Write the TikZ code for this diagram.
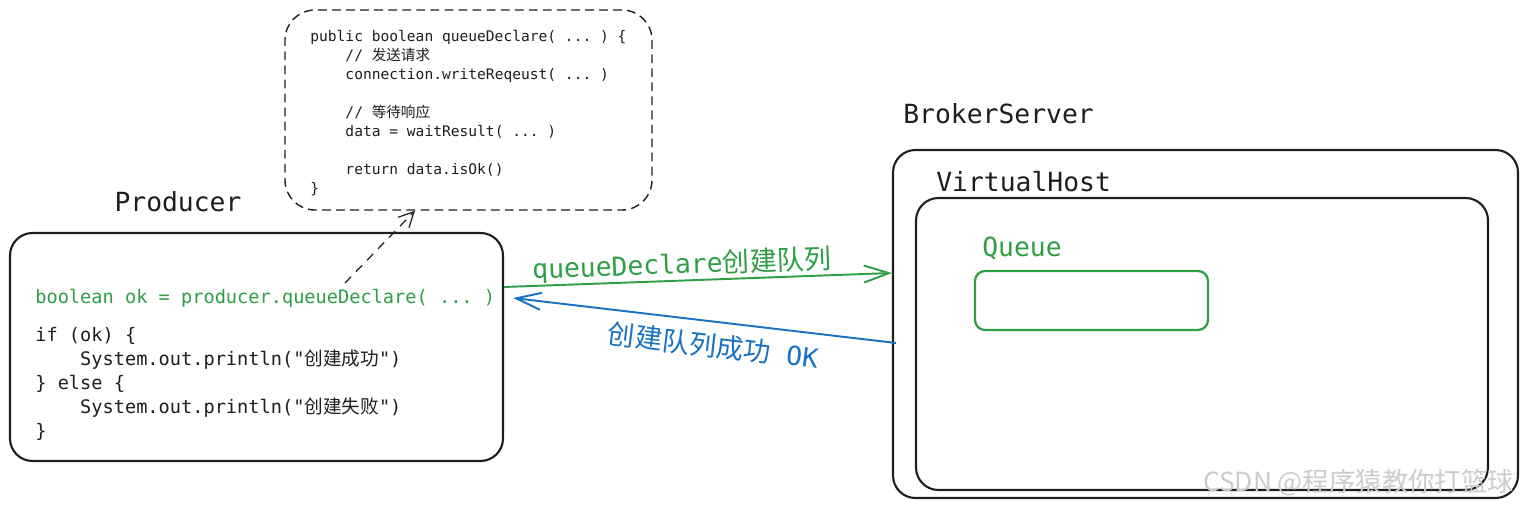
\documentclass[tikz,border=0pt]{standalone}
\usepackage{fontspec}
\setmonofont{DejaVu Sans Mono}
\newfontfamily\cjk{Noto Sans CJK SC}
\usepackage{xcolor}
\usepackage{tikz}
\usetikzlibrary{arrows.meta}
\usetikzlibrary{calc}
\definecolor{exgreen}{HTML}{2F9E44}
\definecolor{exblue}{HTML}{1971C2}
\definecolor{exblack}{HTML}{1E1E1E}
\newcommand{\ind}{\phantom{xxxx}}
\tikzstyle{box}=[rectangle, draw=exblack, line width=1.2pt, rounded corners=0.45cm]
\tikzstyle{dbox}=[rectangle, draw=exblack, dashed, dash pattern=on 5pt off 3pt, line width=0.8pt, rounded corners=0.6cm]
\tikzstyle{qbox}=[rectangle, draw=exgreen, line width=1.3pt, rounded corners=0.2cm]
\tikzstyle{title}=[inner sep=0pt, text=exblack, font=\ttfamily\fontsize{15}{18}\selectfont]
\tikzstyle{code}=[inner sep=0pt, align=left, text=exblack, font=\ttfamily\fontsize{10.6}{13.6}\selectfont]
\tikzstyle{smallcode}=[inner sep=0pt, align=left, text=exblack, font=\ttfamily\fontsize{8.3}{10.8}\selectfont]
\tikzstyle{gline}=[exgreen, line width=1.1pt, -{Straight Barb[length=5mm,width=3.4mm]}]
\tikzstyle{bline}=[exblue, line width=1.1pt, {Straight Barb[length=5mm,width=3.4mm]}-]
\tikzstyle{dline}=[exblack, dashed, dash pattern=on 5pt off 4pt, line width=0.7pt, -{Straight Barb[length=3mm,width=3mm]}]

\begin{document}
\begin{tikzpicture}
\useasboundingbox (0,0) rectangle (30.52,10.18);
% producer
\node[box, minimum width=9.86cm, minimum height=4.56cm] (prod) at (5.13,3.24) {};
\node[title] (prodname) at (3.56,6.14) {Producer};
\node[code, anchor=west, text=exgreen] (okline) at (0.7,4.22) {boolean ok = producer.queueDeclare( ... )};
\node[code, anchor=north west] (ifelse) at (0.7,3.64) {if (ok) \{\\
\ind System.out.println("{\cjk 创建成功}")\\
\} else \{\\
\ind System.out.println("{\cjk 创建失败}")\\
\}};
% method body
\node[dbox, minimum width=7.34cm, minimum height=4cm] (popup) at (9.37,7.98) {};
\node[smallcode, anchor=north west] (method) at (6.2,9.58) {public boolean queueDeclare( ... ) \{\\
\ind // {\cjk 发送请求}\\
\ind connection.writeReqeust( ... )\\[10.8pt]
\ind // {\cjk 等待响应}\\
\ind data = waitResult( ... )\\[10.8pt]
\ind return data.isOk()\\
\}};
\coordinate (tail) at (6.9,4.52);
\draw[dline] (tail) -- (popup.-118);
% broker
\node[box, minimum width=12.5cm, minimum height=6.96cm] (broker) at (24.11,3.70) {};
\node[title, anchor=west] (brokername) at (18.06,7.9) {BrokerServer};
\node[box, minimum width=11.44cm, minimum height=5.84cm] (vhost) at (24.04,3.30) {};
\node[title, anchor=west] (vhostname) at (18.72,6.54) {VirtualHost};
\node[qbox, minimum width=4.66cm, minimum height=1.18cm] (queue) at (21.83,4.17) {};
\node[title, anchor=west, text=exgreen] (queuename) at (19.64,5.22) {Queue};
% request and reply
\draw[gline] ([yshift=1.2cm]prod.east) -- node[sloped, anchor=base, pos=0.46, yshift=4pt, text=exgreen, font=\ttfamily\fontsize{15}{18}\selectfont] (reqlabel) {queueDeclare{\cjk\fontsize{15.5}{18}\selectfont 创建队列}} ([yshift=1.02cm]broker.west);
\draw[bline] ([xshift=0.18cm,yshift=0.98cm]prod.east) -- node[sloped, below, pos=0.53, inner sep=6pt, text=exblue, font=\cjk\fontsize{15.5}{18}\selectfont] (replabel) {创建队列成功\hspace{0.6em}{\ttfamily\fontsize{15}{18}\selectfont OK}} ([xshift=0.08cm,yshift=-0.38cm]broker.west);
\node[anchor=east, text=gray!40, font=\cjk\fontsize{15}{18}\selectfont] (mark) at (30.4,0.52) {CSDN @程序猿教你打篮球};
\end{tikzpicture}
\end{document}
